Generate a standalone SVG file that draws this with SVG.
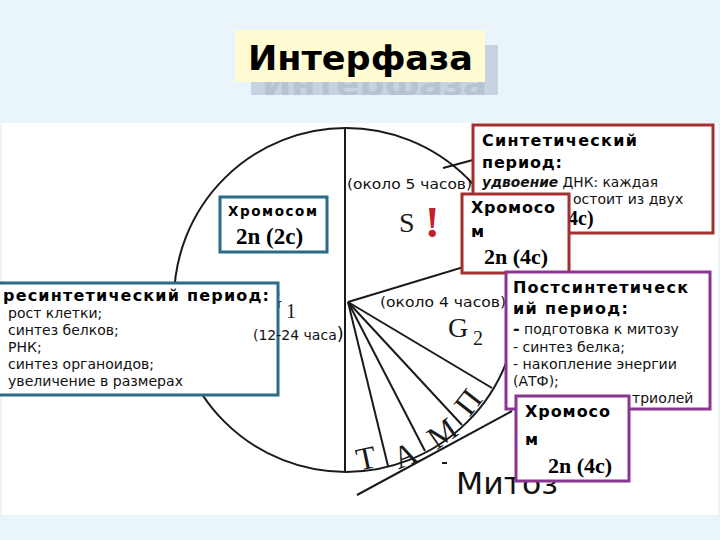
<svg xmlns="http://www.w3.org/2000/svg" width="720" height="540" viewBox="0 0 720 540">
<style>
.bg{fill:#eaf5fb}
.panel{fill:#ffffff}
.ln{stroke:#1a1a1a;stroke-width:2;fill:none}
.box{fill:#ffffff;stroke-width:3}
.teal{stroke:#2b6b88}
.red{stroke:#a2302e}
.pur{stroke:#8b3592}
.hd{font-family:"DejaVu Sans",sans-serif;font-weight:bold;fill:#000}
.tx{font-family:"DejaVu Sans",sans-serif;font-size:14px;fill:#111}
.sf{font-family:"Liberation Serif","Times New Roman",serif;fill:#1a1a1a}
.sfb{font-family:"Liberation Serif","Times New Roman",serif;font-weight:bold;fill:#000}
</style>
<defs>
<clipPath id="shclip"><rect x="251" y="82" width="247" height="13"/></clipPath>
</defs>
<rect class="bg" x="0" y="0" width="720" height="540"/>
<rect class="panel" x="2" y="123" width="716" height="392"/>

<g id="title">
<rect x="251" y="45" width="247" height="50" fill="#c7d3e1"/>
<text x="262" y="96" clip-path="url(#shclip)" font-family="DejaVu Sans,sans-serif" font-weight="bold" font-size="34" fill="#b6c3d2" textLength="225" lengthAdjust="spacingAndGlyphs">Интерфаза</text>
<rect x="235" y="30" width="250" height="52" fill="#fffbd2"/>
<text x="248" y="70" class="hd" font-size="34" textLength="225" lengthAdjust="spacingAndGlyphs">Интерфаза</text>
</g>

<g id="connectors">
<circle class="ln" cx="346" cy="300" r="172"/>
<line class="ln" x1="345" y1="128" x2="345" y2="472"/>
<line class="ln" x1="348" y1="302" x2="510" y2="253"/>
<line class="ln" x1="348" y1="302" x2="492" y2="388"/>
<line class="ln" x1="348" y1="302" x2="462" y2="425"/>
<line class="ln" x1="348" y1="302" x2="425" y2="451"/>
<line class="ln" x1="348" y1="302" x2="388" y2="466"/>
<line class="ln" x1="443" y1="168" x2="473" y2="160"/>
<line class="ln" x1="357" y1="495" x2="512" y2="411"/>
<line class="ln" x1="442" y1="463" x2="447" y2="463"/>
</g>

<g id="cycle-labels">
<text x="262" y="309" class="sf" font-size="28">G</text>
<text x="286" y="318" class="sf" font-size="20">1</text>
<text x="448" y="337" class="sf" font-size="28">G</text>
<text x="473" y="345" class="sf" font-size="20">2</text>
<text x="399" y="232" class="sf" font-size="28">S</text>
<text x="425" y="237" font-family="Liberation Serif,serif" font-weight="bold" font-size="44" fill="#c4202c">!</text>
<g transform="translate(366,458) rotate(-12)"><text x="0" y="11" class="sf" font-size="32" text-anchor="middle">Т</text></g>
<g transform="translate(405,455) rotate(-22)"><text x="0" y="11" class="sf" font-size="32" text-anchor="middle">А</text></g>
<g transform="translate(442,433) rotate(-35)"><text x="0" y="11" class="sf" font-size="32" text-anchor="middle">М</text></g>
<g transform="translate(468,402) rotate(-52)"><text x="0" y="11" class="sf" font-size="32" text-anchor="middle">П</text></g>
<text x="347" y="189" class="tx" font-size="13.5" textLength="125" lengthAdjust="spacingAndGlyphs">(около 5 часов)</text>
<text x="380" y="307" class="tx" font-size="13.5" textLength="126" lengthAdjust="spacingAndGlyphs">(около 4 часов)</text>
<text x="456" y="494" font-family="DejaVu Sans,sans-serif" font-size="31" fill="#111" textLength="102" lengthAdjust="spacingAndGlyphs">Митоз</text>
</g>

<g id="synthetic">
<rect class="box red" x="473" y="125" width="240" height="108"/>
<text x="482" y="146" class="hd" font-size="16" textLength="155" lengthAdjust="spacing">Синтетический</text>
<text x="482" y="168" class="hd" font-size="16" textLength="80" lengthAdjust="spacing">период:</text>
<text x="482" y="187" class="tx" font-size="13.5" textLength="176" lengthAdjust="spacingAndGlyphs"><tspan font-weight="bold" font-style="italic">удвоение</tspan> ДНК: каждая</text>
<text x="573" y="204" class="tx" font-size="13.5">остоит из двух</text>
<text x="568" y="225" class="sfb" font-size="20">4с)</text>
</g>

<g id="chrom-2n2c">
<rect class="box teal" x="220" y="197" width="107" height="55"/>
<text x="228" y="216" class="hd" font-size="13.5" textLength="89" lengthAdjust="spacing">Хромосом</text>
<text x="236" y="244" class="sfb" font-size="23">2n (2c)</text>
</g>

<g id="chrom-s">
<rect class="box red" x="462" y="194" width="107" height="79"/>
<text x="471" y="213" class="hd" font-size="16" textLength="84" lengthAdjust="spacing">Хромосо</text>
<text x="471" y="237" class="hd" font-size="16">м</text>
<text x="484" y="264" class="sfb" font-size="22">2n (4c)</text>
</g>

<g id="presynthetic">
<rect class="box teal" x="-5" y="283" width="283" height="112"/>
<text x="3" y="301" class="hd" font-size="16" textLength="266" lengthAdjust="spacing">ресинтетический период:</text>
<text x="8" y="318" class="tx">рост клетки;</text>
<text x="8" y="335" class="tx">синтез белков;</text>
<text x="8" y="352" class="tx">РНК;</text>
<text x="8" y="369" class="tx">синтез органоидов;</text>
<text x="8" y="386" class="tx" textLength="175" lengthAdjust="spacingAndGlyphs">увеличение в размерах</text>
</g>

<g id="g1-duration">
<text x="253" y="340" class="tx" font-size="14">(12-24 часа<tspan font-size="18">)</tspan></text>
</g>

<g id="postsynthetic">
<rect class="box pur" x="506" y="272" width="204" height="137"/>
<text x="513" y="293" class="hd" font-size="16" textLength="175" lengthAdjust="spacing">Постсинтетическ</text>
<text x="513" y="314" class="hd" font-size="16" textLength="115" lengthAdjust="spacing">ий период:</text>
<text x="513" y="334" class="tx"><tspan font-weight="bold" font-size="16">-</tspan> подготовка к митозу</text>
<text x="513" y="352" class="tx">- синтез белка;</text>
<text x="513" y="369" class="tx" textLength="164" lengthAdjust="spacingAndGlyphs">- накопление энергии</text>
<text x="513" y="386" class="tx">(АТФ);</text>
<text x="632" y="403" class="tx">триолей</text>
</g>

<g id="chrom-g2">
<rect class="box pur" x="516" y="396" width="113" height="85"/>
<text x="525" y="417" class="hd" font-size="16" textLength="85" lengthAdjust="spacing">Хромосо</text>
<text x="525" y="445" class="hd" font-size="16">м</text>
<text x="548" y="473" class="sfb" font-size="22">2n (4c)</text>
</g>
</svg>
